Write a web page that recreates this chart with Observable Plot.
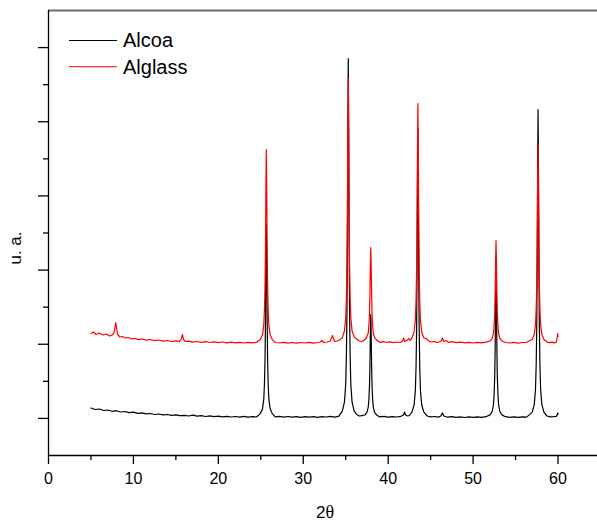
<!DOCTYPE html>
<html>
<head>
<meta charset="utf-8">
<script src="https://cdn.jsdelivr.net/npm/d3@7"></script>
<script src="https://cdn.jsdelivr.net/npm/@observablehq/plot@0.6"></script>
<style>
  body { margin: 0; background: white; }
  #chart { width: 597px; height: 522px; }
</style>
</head>
<body>
<div id="chart"></div>
<script>
// Series names
const seriesNames = ["Alcoa", "Alglass"];

// x-axis tick labels (2θ)
const xMajorTicks = [0, 10, 20, 30, 40, 50, 60];
const xMinorTicks = [5, 15, 25, 35, 45, 55];

// Alcoa pattern: [2θ, intensity (a.u.)]
const alcoa = [
  [5.0,47.5],[5.5,46],[6.0,46.5],[6.5,45],[7.0,45.5],[7.5,44.2],[8.0,44.8],[8.5,43.5],[9.0,44],[9.5,42.8],
  [10.0,43.4],[10.5,42.2],[11.0,42.6],[11.5,41.6],[12.0,42],[12.5,41],[13.0,41.5],[13.5,40.6],[14.0,41],[14.5,40.2],
  [15.0,40.7],[15.5,39.8],[16.0,40.2],[16.5,39.5],[17.0,40.4],[17.5,39.3],[18.0,39.8],[18.5,39],[19.0,39.6],[19.5,38.8],
  [20.0,39.4],[20.5,38.7],[21.0,39.2],[21.5,38.5],[22.0,39],[22.5,38.4],[23.0,39.1],[23.5,38.3],[24.0,38.9],[24.5,38.5],
  [24.95,41.9],[25.2,46.7],[25.35,56.3],[25.43,71.6],[25.5,96.6],[25.55,135],[25.6,192.6],[25.65,231],[25.7,192.6],
  [25.75,135],[25.8,96.6],[25.87,71.6],[25.95,56.3],[26.1,46.7],[26.35,41.9],
  [26.7,38.6],[27.2,39.2],[27.7,38.4],[28.2,39],[28.7,38.3],[29.2,38.9],[29.7,38.2],[30.2,38.8],[30.7,38.3],[31.2,38.9],
  [31.7,38.2],[32.2,38.8],[32.7,38.5],[33.2,39.2],[33.7,38.4],[34.2,39.4],
  [34.6,44.4],[34.85,53.3],[35.0,71.2],[35.08,99.9],[35.15,146.4],[35.2,218],[35.25,325.4],[35.3,397],[35.35,325.4],
  [35.4,218],[35.45,146.4],[35.52,99.9],[35.6,71.2],[35.75,53.3],[36.0,44.4],
  [36.3,41],[36.6,39.5],[36.9,39.8],
  [37.25,40.5],[37.5,43.1],[37.65,48.2],[37.73,56.3],[37.8,69.6],[37.85,90],[37.9,120.6],[37.95,141],[38.0,120.6],
  [38.05,90],[38.1,69.6],[38.17,56.3],[38.25,48.2],[38.4,43.1],[38.65,40.5],
  [39.0,38.6],[39.5,39.1],[40.0,38.4],[40.5,38.9],[41.0,38.5],[41.5,39.2],[41.8,40.5],[41.93,43.5],[42.05,40.5],
  [42.3,39.5],[42.5,40],
  [42.8,43.3],[43.05,50.5],[43.2,64.9],[43.28,88],[43.35,125.4],[43.4,183],[43.45,269.4],[43.5,327],[43.55,269.4],
  [43.6,183],[43.65,125.4],[43.72,88],[43.8,64.9],[43.95,50.5],[44.2,43.3],
  [44.6,39.5],[45.0,38.6],[45.5,39],[45.9,38.4],[46.2,39.5],[46.38,42.5],[46.55,39.5],[47.0,38.3],[47.5,38.8],
  [48.0,38.1],[48.5,38.6],[49.0,38],[49.5,38.6],[50.0,38.1],[50.5,38.7],[51.0,38.2],[51.5,38.8],
  [52.0,40.6],[52.25,44],[52.4,51],[52.48,62],[52.55,80.1],[52.6,107.8],[52.65,149.3],[52.7,177],[52.75,149.3],
  [52.8,107.8],[52.85,80.1],[52.92,62],[53.0,51],[53.15,44],[53.4,40.6],
  [53.8,38.8],[54.3,38.2],[54.8,38.7],[55.3,38.1],[55.8,38.7],[56.3,38.4],
  [56.95,43.1],[57.2,50.8],[57.35,66.2],[57.43,90.8],[57.5,130.8],[57.55,192.3],[57.6,284.5],[57.65,346],[57.7,284.5],
  [57.75,192.3],[57.8,130.8],[57.87,90.8],[57.95,66.2],[58.1,50.8],[58.35,43.1],
  [58.7,39.5],[59.1,38.6],[59.5,38.9],[59.8,39.2],[59.9,40.5],[59.97,42.5],[60.0,41]
];

// Alglass pattern: [2θ, intensity (a.u.)]
const alglass = [
  [5.0,122],[5.3,123.5],[5.6,121],[6.0,122.5],[6.4,120.5],[6.8,121.5],[7.2,119.5],[7.5,120.5],[7.7,122.5],[7.82,128],
  [7.92,133],[8.02,127],[8.15,121],[8.4,118.5],[8.7,119],[9.0,117.5],[9.4,118],[9.8,116.5],[10.2,117.2],[10.6,115.8],
  [11.0,116.5],[11.5,115.3],[12.0,116],[12.5,114.8],[13.0,115.5],[13.5,114.4],[14.0,115],[14.5,114],[15.0,114.6],
  [15.4,113.8],[15.65,116.5],[15.77,121],[15.9,116],[16.1,114],[16.5,114.3],[17.0,113.4],[17.5,114],[18.0,113.2],
  [18.5,113.8],[19.0,113],[19.5,113.6],[20.0,112.8],[20.5,113.5],[21.0,112.7],[21.5,113.3],[22.0,112.6],[22.5,113.2],
  [23.0,112.5],[23.5,113.1],[24.0,112.6],[24.5,113.2],
  [24.95,115.9],[25.2,120.7],[25.35,130.4],[25.43,145.8],[25.5,170.9],[25.55,209.5],[25.6,267.4],[25.65,306],
  [25.7,267.4],[25.75,209.5],[25.8,170.9],[25.87,145.8],[25.95,130.4],[26.1,120.7],[26.35,115.9],
  [26.7,113],[27.2,112.5],[27.7,113.2],[28.2,112.4],[28.7,113],[29.2,112.3],[29.7,113],[30.2,112.5],[30.7,113.1],
  [31.2,112.4],[31.7,113],[32.0,113.5],[32.2,115],[32.4,113],[32.8,113.5],[33.2,114.5],[33.35,118],[33.45,120],
  [33.55,117],[33.7,114],[34.0,114.5],[34.3,115.5],
  [34.6,117.9],[34.85,124.5],[35.0,137.7],[35.08,158.7],[35.15,192.9],[35.2,245.5],[35.25,324.4],[35.3,377],
  [35.35,324.4],[35.4,245.5],[35.45,192.9],[35.52,158.7],[35.6,137.7],[35.75,124.5],[35.9,121],[36.05,118],
  [36.3,116.5],[36.6,114.5],[36.9,114],[37.2,115.5],[37.45,118],
  [37.65,122.5],[37.73,130],[37.8,142.2],[37.85,161],[37.9,189.2],[37.95,208],[38.0,189.2],[38.05,161],[38.1,142.2],
  [38.17,130],[38.25,122.5],[38.4,117.8],[38.65,115.4],
  [39.0,113.2],[39.4,113.8],[39.8,113],[40.2,113.6],[40.6,112.8],[41.0,113.5],[41.4,113],[41.7,114.5],[41.82,117.5],
  [41.95,114],[42.2,115],[42.45,117],[42.6,115],
  [42.8,117.6],[43.05,123.5],[43.2,135.4],[43.28,154.5],[43.35,185.4],[43.4,233],[43.45,304.4],[43.5,352],[43.55,304.4],
  [43.6,233],[43.65,185.4],[43.72,154.5],[43.8,135.4],[43.95,123.5],[44.2,117.6],
  [44.45,117],[44.7,115],[45.0,113.5],[45.4,114],[45.8,113],[46.2,114],[46.38,117.5],[46.55,114],[46.8,115],
  [47.1,113.2],[47.5,113.8],[48.0,112.8],[48.5,113.4],[49.0,112.6],[49.5,113.2],[50.0,112.5],[50.5,113.1],[51.0,112.6],
  [51.5,113.3],
  [52.0,114.5],[52.25,117.1],[52.4,122.2],[52.48,130.3],[52.55,143.6],[52.6,164],[52.65,194.6],[52.7,215],[52.75,194.6],
  [52.8,164],[52.85,143.6],[52.92,130.3],[53.0,122.2],[53.15,117.1],[53.4,114.5],
  [53.8,113],[54.3,112.5],[54.8,113.1],[55.3,112.4],[55.8,113],[56.3,113.2],
  [56.95,116],[57.2,120.9],[57.35,130.8],[57.43,146.7],[57.5,172.4],[57.55,212],[57.6,271.4],[57.65,311],[57.7,271.4],
  [57.75,212],[57.8,172.4],[57.87,146.7],[57.95,130.8],[58.1,120.9],[58.35,116],
  [58.7,113.5],[59.0,112.8],[59.3,113.4],[59.6,112.6],[59.8,113.5],[59.9,118],[59.97,122],[60.0,119]
];

const colors = ["#000000", "#ff0000"];

// unlabeled y ticks (a.u.), 12 equal steps over the axis
const yMax = 445;
const yAll = d3.range(1, 12).map(i => i * yMax / 12);
const yMajor = yAll.filter((d, i) => i % 2 === 0);
const yMinor = yAll.filter((d, i) => i % 2 === 1);

const font = "'Liberation Sans', Arial, Helvetica, sans-serif";

const chart = Plot.plot({
  width: 597,
  height: 522,
  marginLeft: 48,
  marginRight: 0,
  marginTop: 10,
  marginBottom: 67,
  style: { fontFamily: font, fontSize: "16px", color: "black", background: "white", overflow: "visible" },
  x: { domain: [0, 64.65] },
  y: { domain: [0, yMax] },
  marks: [
    Plot.axisX(xMajorTicks, { tickSize: 9, tickPadding: 8, tickFormat: d => String(d), label: null, fontSize: 16, strokeWidth: 1.3 }),
    Plot.axisX(xMinorTicks, { tickSize: 5, tickFormat: () => "", label: null, strokeWidth: 1.3 }),
    Plot.axisY(yMajor, { tickSize: 10, tickFormat: () => "", label: null, strokeWidth: 1.3 }),
    Plot.axisY(yMinor, { tickSize: 5, tickFormat: () => "", label: null, strokeWidth: 1.3 }),
    Plot.ruleY([yMax], { stroke: "#6a6a6a", strokeWidth: 2 }),
    Plot.ruleX([0], { stroke: "black", strokeWidth: 1.3 }),
    Plot.ruleY([0], { stroke: "black", strokeWidth: 1.3 }),
    Plot.line(alcoa, { x: d => d[0], y: d => d[1], stroke: colors[0], strokeWidth: 1.2 }),
    Plot.line(alglass, { x: d => d[0], y: d => d[1], stroke: colors[1], strokeWidth: 1.2 })
  ]
});

const svg = d3.select(chart);

// y-axis title
svg.append("text").attr("transform", "translate(21,248) rotate(-90)").attr("text-anchor", "middle")
  .attr("font-family", font).attr("font-size", 17).attr("fill", "black").text("u. a.");

// x-axis title "2θ" (θ in a serif face, as in the original)
const xt = svg.append("text").attr("x", 325).attr("y", 518).attr("text-anchor", "middle")
  .attr("font-family", font).attr("font-size", 17).attr("fill", "black");
xt.append("tspan").text("2");
xt.append("tspan").attr("font-family", "'Liberation Serif', 'DejaVu Serif', serif").attr("font-size", 18).text("θ");

// legend (top-left inside the frame)
const leg = svg.append("g").attr("font-family", font).attr("font-size", 20).attr("text-anchor", "start");
seriesNames.forEach((name, i) => {
  const y = 40.5 + i * 26.2;
  leg.append("line").attr("x1", 69).attr("x2", 117).attr("y1", y).attr("y2", y)
     .attr("stroke", colors[i]).attr("stroke-width", 1);
  leg.append("text").attr("x", 123).attr("y", y + 6.8).attr("fill", "black").text(name);
});

document.getElementById("chart").appendChild(chart);
</script>
</body>
</html>
